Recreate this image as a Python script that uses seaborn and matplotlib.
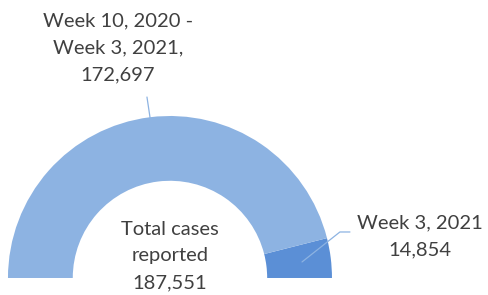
import seaborn as sns
import matplotlib.pyplot as plt

# weekly case counts (half donut)
labels = ['Week 3, 2021', 'Week 10, 2020 -\nWeek 3, 2021']
cases = [14854, 172697]
total = sum(cases)
colors = ['#5b8fd6', '#8db3e2']

sns.set_theme(style='white')
plt.rcParams['font.family'] = ['Lato', 'DejaVu Sans']

fig = plt.figure(figsize=(4.88, 2.95), dpi=100)
ax = fig.add_axes([0, 0, 1, 1])

# second half of the pie is the invisible filler
ax.pie(cases + [total], colors=colors + ['none'], startangle=0, counterclock=True,
       radius=1, wedgeprops=dict(width=0.4, edgecolor='none', linewidth=0))
ax.set_xlim(-1.049, 1.963)
ax.set_ylim(-0.105, 1.716)
ax.set_aspect('equal')
ax.axis('off')

txt = '#404040'
line_c = '#8db3e2'

ax.text(-0.321, 1.42, f'{labels[1]},\n{cases[1]:,}', ha='center', va='center',
        fontsize=14.5, color=txt, linespacing=1.7)
ax.plot([-0.142, -0.093], [1.117, 0.79], color=line_c, lw=0.9)

ax.text(1.543, 0.259, f'{labels[0]}\n{cases[0]:,}', ha='center', va='center',
        fontsize=14.5, color=txt, linespacing=1.7)
ax.plot([0.815, 1.049, 1.111], [0.099, 0.284, 0.284], color=line_c, lw=0.9)

ax.text(0, 0.136, f'Total cases\nreported\n{total:,}', ha='center', va='center',
        fontsize=14.5, color=txt, linespacing=1.7)

plt.savefig('out.png', dpi=100)
